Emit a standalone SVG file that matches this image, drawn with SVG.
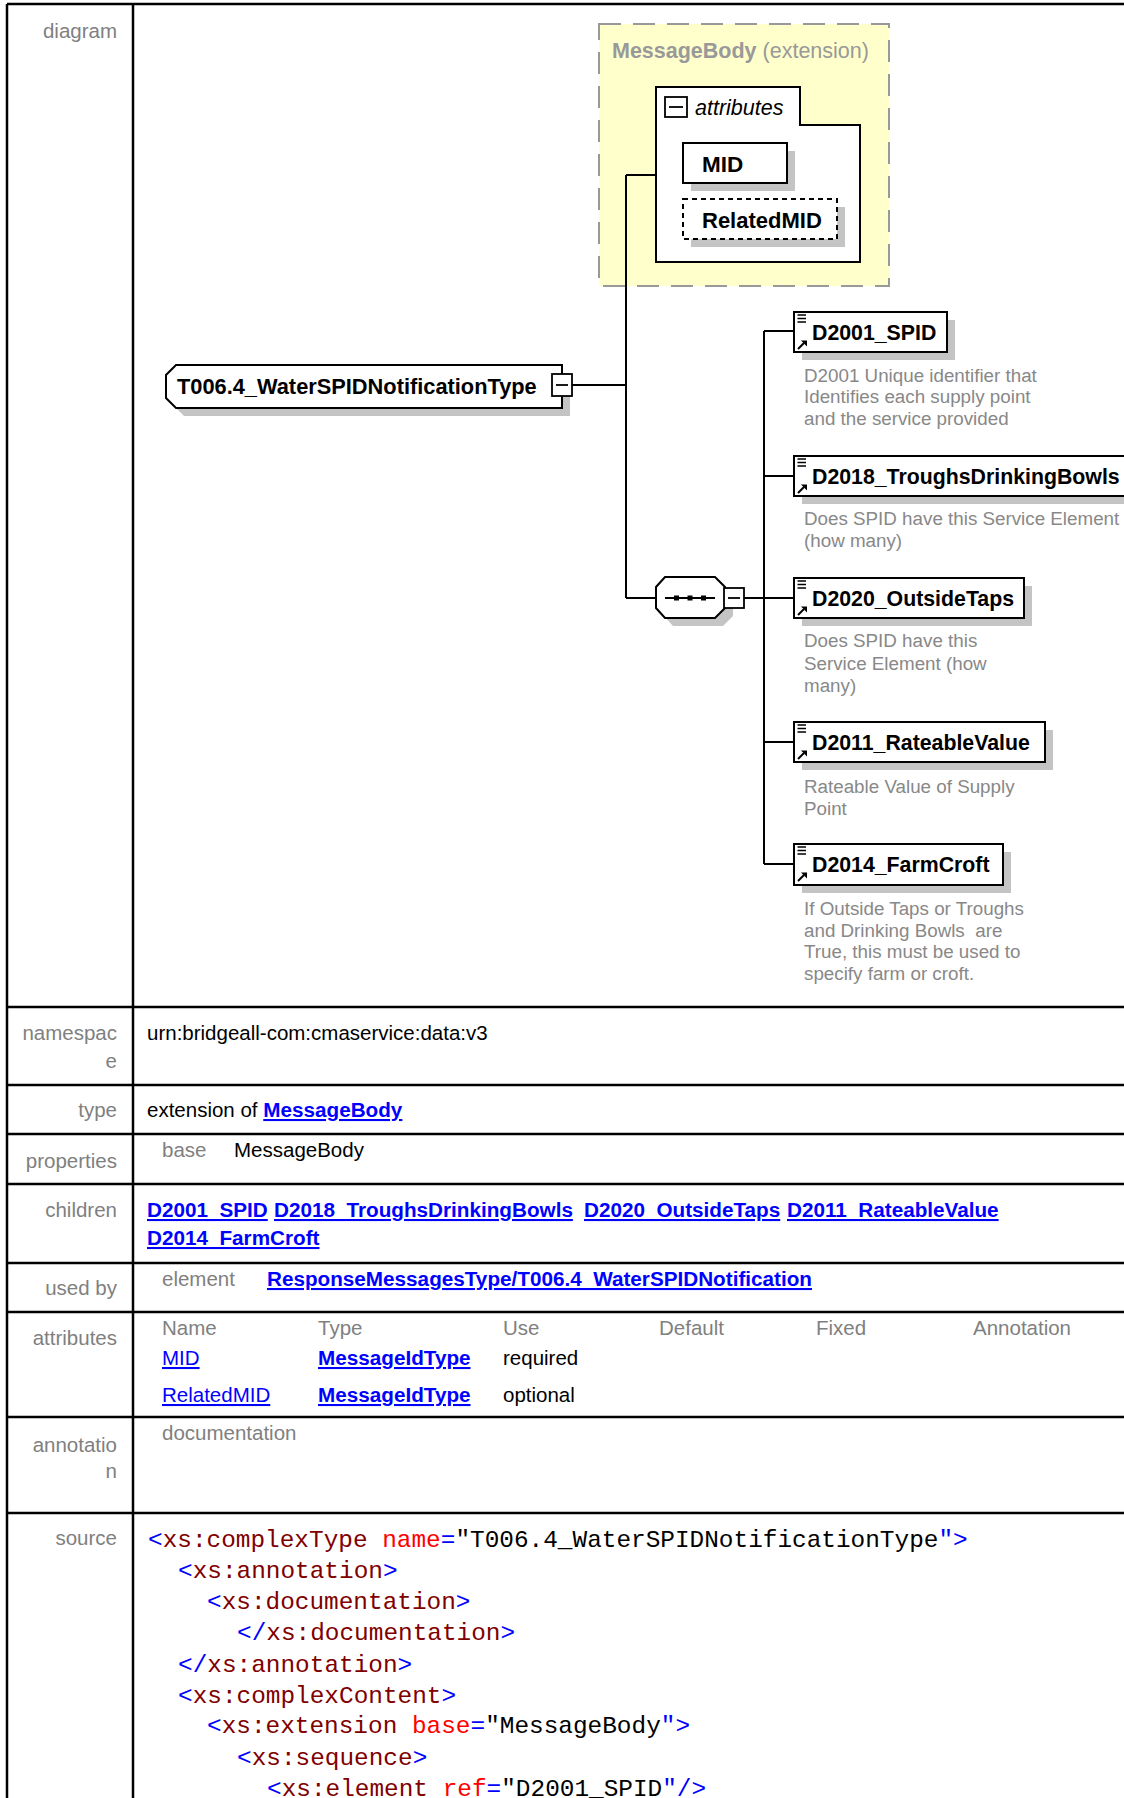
<svg xmlns="http://www.w3.org/2000/svg" width="1124" height="1798" viewBox="0 0 1124 1798">
<style>
text{font-family:"Liberation Sans",Arial,sans-serif}
.lbl{fill:#808080;font-size:20.5px;text-anchor:end}
.hd{fill:#808080;font-size:20.5px}
.val{fill:#000;font-size:20.5px}
.lnk{fill:#0000ff;font-size:20.7px;font-weight:bold;text-decoration:underline}
.lnkn{fill:#0000ff;font-size:20.5px;text-decoration:underline}
.code{font-family:"Liberation Mono","Courier New",monospace;font-size:24.4px;fill:#000}
.b{fill:#0000ff}.e{fill:#800000}.a{fill:#ff0000}
.nm{font-size:21.3px;font-weight:bold;fill:#000}
.doc{font-size:18.8px;fill:#888}
.grid{stroke:#000;stroke-width:2.5;fill:none}
.con{stroke:#000;stroke-width:2;fill:none}
.box{fill:#fff;stroke:#000;stroke-width:2}
.shd{fill:#c4c4c4}
</style>
<defs>
<g id="icon">
<path d="M3.5,3H12M3.5,6.5H12M3.5,10H12" stroke="#000" stroke-width="1.3"/>
<path d="M4,37L10,31" stroke="#000" stroke-width="2"/>
<path d="M7,28.5H13V34.5Z" fill="#000"/>
</g>
</defs>
<rect width="1124" height="1798" fill="#fff"/>
<g id="table">
<path class="grid" d="M7,4H1124M7,1007H1124M7,1085H1124M7,1134H1124M7,1184H1124M7,1263H1124M7,1312H1124M7,1417H1124M7,1513H1124M7,4V1798M133,4V1798"/>
<text class="lbl" x="117" y="38">diagram</text>
<text class="lbl" x="117" y="1040">namespac</text>
<text class="lbl" x="117" y="1068">e</text>
<text class="val" x="147" y="1040">urn:bridgeall-com:cmaservice:data:v3</text>
<text class="lbl" x="117" y="1117">type</text>
<text class="val" x="147" y="1117">extension of <tspan class="lnk">MessageBody</tspan></text>
<text class="lbl" x="117" y="1168">properties</text>
<text class="hd" x="162" y="1157">base</text>
<text class="val" x="234" y="1157">MessageBody</text>
<text class="lbl" x="117" y="1217">children</text>
<text class="lnk" x="147" y="1217">D2001_SPID</text>
<text class="lnk" x="274" y="1217">D2018_TroughsDrinkingBowls</text>
<text class="lnk" x="584" y="1217">D2020_OutsideTaps</text>
<text class="lnk" x="787" y="1217">D2011_RateableValue</text>
<text class="lnk" x="147" y="1245">D2014_FarmCroft</text>
<text class="lbl" x="117" y="1295">used by</text>
<text class="hd" x="162" y="1286">element</text>
<text class="lnk" x="267" y="1286">ResponseMessagesType/T006.4_WaterSPIDNotification</text>
<text class="lbl" x="117" y="1345">attributes</text>
<text class="hd" x="162" y="1335">Name</text>
<text class="hd" x="318" y="1335">Type</text>
<text class="hd" x="503" y="1335">Use</text>
<text class="hd" x="659" y="1335">Default</text>
<text class="hd" x="816" y="1335">Fixed</text>
<text class="hd" x="973" y="1335">Annotation</text>
<text class="lnkn" x="162" y="1365">MID</text>
<text class="lnk" x="318" y="1365">MessageIdType</text>
<text class="val" x="503" y="1365">required</text>
<text class="lnkn" x="162" y="1402">RelatedMID</text>
<text class="lnk" x="318" y="1402">MessageIdType</text>
<text class="val" x="503" y="1402">optional</text>
<text class="lbl" x="117" y="1452">annotatio</text>
<text class="lbl" x="117" y="1478">n</text>
<text class="hd" x="162" y="1440">documentation</text>
<text class="lbl" x="117" y="1545">source</text>
<text class="code" x="148" y="1547"><tspan class="b">&lt;</tspan><tspan class="e">xs:complexType</tspan> <tspan class="a">name</tspan><tspan class="b">=</tspan>"T006.4_WaterSPIDNotificationType<tspan class="b">"&gt;</tspan></text>
<text class="code" x="178" y="1578"><tspan class="b">&lt;</tspan><tspan class="e">xs:annotation</tspan><tspan class="b">&gt;</tspan></text>
<text class="code" x="207" y="1609"><tspan class="b">&lt;</tspan><tspan class="e">xs:documentation</tspan><tspan class="b">&gt;</tspan></text>
<text class="code" x="237" y="1640"><tspan class="b">&lt;/</tspan><tspan class="e">xs:documentation</tspan><tspan class="b">&gt;</tspan></text>
<text class="code" x="178" y="1672"><tspan class="b">&lt;/</tspan><tspan class="e">xs:annotation</tspan><tspan class="b">&gt;</tspan></text>
<text class="code" x="178" y="1703"><tspan class="b">&lt;</tspan><tspan class="e">xs:complexContent</tspan><tspan class="b">&gt;</tspan></text>
<text class="code" x="207" y="1733"><tspan class="b">&lt;</tspan><tspan class="e">xs:extension</tspan> <tspan class="a">base</tspan><tspan class="b">=</tspan>"MessageBody<tspan class="b">"&gt;</tspan></text>
<text class="code" x="237" y="1765"><tspan class="b">&lt;</tspan><tspan class="e">xs:sequence</tspan><tspan class="b">&gt;</tspan></text>
<text class="code" x="267" y="1796"><tspan class="b">&lt;</tspan><tspan class="e">xs:element</tspan> <tspan class="a">ref</tspan><tspan class="b">=</tspan>"D2001_SPID<tspan class="b">"/&gt;</tspan></text>
</g>
<g id="n-messagebody">
<rect x="599" y="24" width="290" height="262" fill="#ffffcc" stroke="#999" stroke-width="2" stroke-dasharray="22 12"/>
<text x="612" y="58" style="font-size:21.5px;fill:#999"><tspan font-weight="bold">MessageBody</tspan> (extension)</text>
</g>
<g id="n-attributes">
<path class="box" d="M656,87H800V125H860V262H656Z"/>
<rect x="665" y="97" width="22" height="20" fill="#fff" stroke="#000" stroke-width="1.8"/>
<path d="M669,107H683" stroke="#000" stroke-width="1.8"/>
<text x="695" y="115" style="font-size:21.5px;font-style:italic;fill:#000">attributes</text>
</g>
<g id="n-mid">
<rect class="shd" x="691" y="151" width="104" height="40"/>
<rect class="box" x="683" y="143" width="104" height="40"/>
<text class="nm" x="702" y="172" style="font-size:22.5px">MID</text>
</g>
<g id="n-relatedmid">
<rect class="shd" x="691" y="207" width="154" height="40"/>
<rect x="683" y="199" width="154" height="40" fill="#fff" stroke="#000" stroke-width="2" stroke-dasharray="5 4"/>
<text class="nm" x="702" y="228" style="font-size:22px">RelatedMID</text>
</g>
<g id="n-root">
<polygon class="shd" points="184,373 570,373 570,416 184,416 174,406 174,383"/>
<polygon class="box" points="176,365 562,365 562,408 176,408 166,398 166,375"/>
<text class="nm" x="177" y="394" style="font-size:21.8px">T006.4_WaterSPIDNotificationType</text>
<rect x="552" y="374" width="20" height="22" fill="#fff" stroke="#000" stroke-width="1.8"/>
<path d="M556,385H568" stroke="#000" stroke-width="1.8"/>
</g>
<g id="n-sequence">
<polygon class="shd" points="673,585 723,585 733,595 733,616 723,626 673,626 664,616 664,595"/>
<polygon class="box" points="665,577 715,577 725,587 725,608 715,618 665,618 656,608 656,587"/>
<path d="M665,598H715" stroke="#000" stroke-width="1.8"/>
<rect x="674" y="595.5" width="5" height="5"/>
<rect x="687.5" y="595.5" width="5" height="5"/>
<rect x="701" y="595.5" width="5" height="5"/>
<rect x="724" y="588" width="20" height="20" fill="#fff" stroke="#000" stroke-width="1.8"/>
<path d="M728,598H740" stroke="#000" stroke-width="1.8"/>
</g>
<g id="n-d2001">
<rect class="shd" x="802" y="320" width="153" height="40"/>
<rect class="box" x="794" y="312" width="153" height="40"/>
<use href="#icon" x="794" y="312"/>
<text class="nm" x="812" y="340">D2001_SPID</text>
<text class="doc" x="804" y="382">D2001 Unique identifier that</text>
<text class="doc" x="804" y="403">Identifies each supply point</text>
<text class="doc" x="804" y="425">and the service provided</text>
</g>
<g id="n-d2018">
<rect class="shd" x="802" y="464" width="345" height="40"/>
<rect class="box" x="794" y="456" width="345" height="40"/>
<use href="#icon" x="794" y="456"/>
<text class="nm" x="812" y="484">D2018_TroughsDrinkingBowls</text>
<text class="doc" x="804" y="525">Does SPID have this Service Element</text>
<text class="doc" x="804" y="547">(how many)</text>
</g>
<g id="n-d2020">
<rect class="shd" x="802" y="586" width="230" height="40"/>
<rect class="box" x="794" y="578" width="230" height="40"/>
<use href="#icon" x="794" y="578"/>
<text class="nm" x="812" y="606">D2020_OutsideTaps</text>
<text class="doc" x="804" y="647">Does SPID have this</text>
<text class="doc" x="804" y="670">Service Element (how</text>
<text class="doc" x="804" y="692">many)</text>
</g>
<g id="n-d2011">
<rect class="shd" x="802" y="730" width="251" height="40"/>
<rect class="box" x="794" y="722" width="251" height="40"/>
<use href="#icon" x="794" y="722"/>
<text class="nm" x="812" y="750">D2011_RateableValue</text>
<text class="doc" x="804" y="793">Rateable Value of Supply</text>
<text class="doc" x="804" y="815">Point</text>
</g>
<g id="n-d2014">
<rect class="shd" x="802" y="852" width="209" height="41"/>
<rect class="box" x="794" y="844" width="209" height="41"/>
<use href="#icon" x="794" y="844"/>
<text class="nm" x="812" y="872">D2014_FarmCroft</text>
<text class="doc" x="804" y="915">If Outside Taps or Troughs</text>
<text class="doc" x="804" y="937" xml:space="preserve">and Drinking Bowls  are</text>
<text class="doc" x="804" y="958">True, this must be used to</text>
<text class="doc" x="804" y="980">specify farm or croft.</text>
</g>
<g id="connectors">
<path class="con" d="M572,385H626M626,175V598M626,175H656M626,598H656M744,598H764M764,331V864M764,331H794M764,476H794M764,598H794M764,742H794M764,864H794"/>
</g>
</svg>
